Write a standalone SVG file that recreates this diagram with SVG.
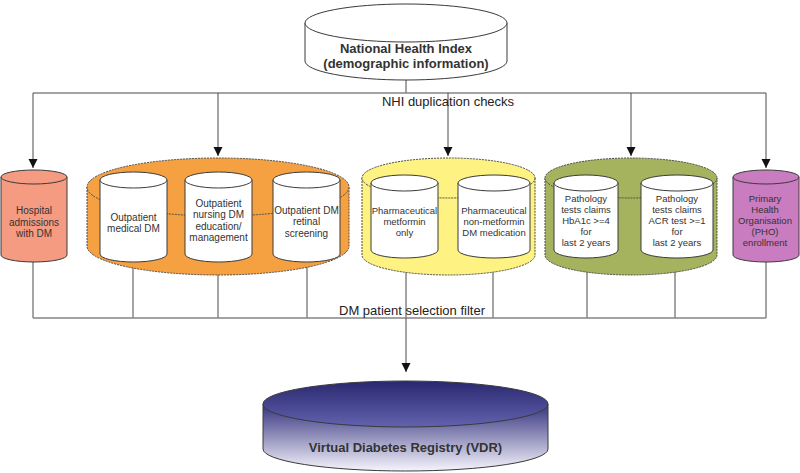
<svg xmlns="http://www.w3.org/2000/svg" width="800" height="473" viewBox="0 0 800 473">
<defs>
<style>
.hl{stroke:#858585;stroke-width:1.6;fill:none}
.vl{stroke:#4a4a4a;stroke-width:1;fill:none}
.cyl{stroke:#3a3a3a;stroke-width:1}
.outer{stroke:#4a4a4a;stroke-width:1;stroke-dasharray:2 1}
.t{font-family:"Liberation Sans",Arial,sans-serif;font-size:10px;fill:#333;text-anchor:middle}
.ts{font-family:"Liberation Sans",Arial,sans-serif;font-size:9.5px;fill:#333;text-anchor:middle}
.lbl{font-family:"Liberation Sans",Arial,sans-serif;font-size:13px;fill:#222;text-anchor:middle}
.b{font-family:"Liberation Sans",Arial,sans-serif;font-size:13px;font-weight:bold;fill:#333;text-anchor:middle}
</style>
<marker id="ah" markerUnits="userSpaceOnUse" markerWidth="10" markerHeight="10" refX="9" refY="5" orient="auto">
<path d="M0,0.5 L9,5 L0,9.5 Z" fill="#111"/>
</marker>
<linearGradient id="vdrBody" x1="0" y1="0" x2="0" y2="1">
<stop offset="0" stop-color="#34337f"/>
<stop offset="1" stop-color="#f6f4fc"/>
</linearGradient>
<linearGradient id="vdrTop" x1="0" y1="0" x2="0" y2="1">
<stop offset="0" stop-color="#29286f"/>
<stop offset="1" stop-color="#6262ae"/>
</linearGradient>
</defs>
<rect width="800" height="473" fill="#fff"/>

<g id="connectors">
<line class="vl" x1="406" y1="78" x2="406" y2="93"/>
<line class="hl" x1="33" y1="93" x2="766" y2="93"/>
<line class="vl" x1="33" y1="93" x2="33" y2="168" marker-end="url(#ah)"/>
<line class="vl" x1="218" y1="93" x2="218" y2="156" marker-end="url(#ah)"/>
<line class="vl" x1="448" y1="93" x2="448" y2="156" marker-end="url(#ah)"/>
<line class="vl" x1="631" y1="93" x2="631" y2="156" marker-end="url(#ah)"/>
<line class="vl" x1="766" y1="93" x2="766" y2="168" marker-end="url(#ah)"/>
<line class="vl" x1="33" y1="250" x2="33" y2="318"/>
<line class="vl" x1="133" y1="250" x2="133" y2="318"/>
<line class="vl" x1="218" y1="250" x2="218" y2="318"/>
<line class="vl" x1="307" y1="250" x2="307" y2="318"/>
<line class="vl" x1="406" y1="250" x2="406" y2="318"/>
<line class="vl" x1="493" y1="250" x2="493" y2="318"/>
<line class="vl" x1="587" y1="250" x2="587" y2="318"/>
<line class="vl" x1="675" y1="250" x2="675" y2="318"/>
<line class="vl" x1="766" y1="250" x2="766" y2="318"/>
<line class="hl" x1="33" y1="318" x2="766" y2="318"/>
<line class="vl" x1="406" y1="318" x2="406" y2="372" marker-end="url(#ah)"/>
<text class="lbl" x="448" y="106">NHI duplication checks</text>
<text class="lbl" x="412" y="315">DM patient selection filter</text>
</g>

<g id="nhi">
<path class="cyl" fill="#fff" d="M305,23 V61 A101,19 0 0 0 507,61 V23"/>
<ellipse class="cyl" fill="#fff" cx="406" cy="23" rx="101" ry="19"/>
<text class="b" x="406" y="53">National Health Index</text>
<text class="b" x="406" y="68">(demographic information)</text>
</g>

<g id="hospital">
<path class="cyl" fill="#f59b82" d="M1,177 V255 A33,7 0 0 0 67,255 V177"/>
<ellipse class="cyl" fill="#f59b82" cx="34" cy="177" rx="33" ry="7"/>
<text class="t" x="34" y="214">Hospital</text>
<text class="t" x="34" y="225.5">admissions</text>
<text class="t" x="34" y="237">with DM</text>
</g>

<g id="outpatient">
<path class="outer" fill="#f5a142" d="M87,187 V246 A131,29 0 0 0 349,246 V187"/>
<ellipse class="outer" fill="#f5a142" cx="218" cy="187" rx="131" ry="29"/>
<g id="outpatient-medical">
<path class="cyl" fill="#fff" d="M100,180 V254 A33.5,8 0 0 0 167,254 V180"/>
<ellipse class="cyl" fill="#fff" cx="133.5" cy="180" rx="33.5" ry="8"/>
<text class="t" x="133.5" y="220.5">Outpatient</text>
<text class="t" x="133.5" y="232">medical DM</text>
</g>
<g id="outpatient-nursing">
<path class="cyl" fill="#fff" d="M185,180 V254 A33.5,8 0 0 0 252,254 V180"/>
<ellipse class="cyl" fill="#fff" cx="218.5" cy="180" rx="33.5" ry="8"/>
<text class="t" x="218.5" y="206.5">Outpatient</text>
<text class="t" x="218.5" y="218">nursing DM</text>
<text class="t" x="218.5" y="229.5">education/</text>
<text class="t" x="218.5" y="241">management</text>
</g>
<g id="outpatient-retinal">
<path class="cyl" fill="#fff" d="M273,180 V254 A33.5,8 0 0 0 340,254 V180"/>
<ellipse class="cyl" fill="#fff" cx="306.5" cy="180" rx="33.5" ry="8"/>
<text class="t" x="306.5" y="213.5">Outpatient DM</text>
<text class="t" x="306.5" y="225">retinal</text>
<text class="t" x="306.5" y="236.5">screening</text>
</g>
</g>

<g id="pharmaceutical">
<path class="outer" fill="#fdf282" d="M362,178 V255 A86.5,20 0 0 0 535,255 V178"/>
<ellipse class="outer" fill="#fdf282" cx="448.5" cy="178" rx="86.5" ry="20"/>
<g id="pharm-metformin">
<path class="cyl" fill="#fff" d="M371,183 V250 A33.5,8 0 0 0 438,250 V183"/>
<ellipse class="cyl" fill="#fff" cx="404.5" cy="183" rx="33.5" ry="8"/>
<text class="ts" x="404.5" y="214">Pharmaceutical</text>
<text class="ts" x="404.5" y="225">metformin</text>
<text class="ts" x="404.5" y="236">only</text>
</g>
<g id="pharm-nonmetformin">
<path class="cyl" fill="#fff" d="M458,183 V250 A36,8 0 0 0 530,250 V183"/>
<ellipse class="cyl" fill="#fff" cx="494" cy="183" rx="36" ry="8"/>
<text class="ts" x="494" y="214">Pharmaceutical</text>
<text class="ts" x="494" y="225">non-metformin</text>
<text class="ts" x="494" y="236">DM medication</text>
</g>
</g>

<g id="pathology">
<path class="outer" fill="#a5b35e" d="M545,178 V255 A86,20 0 0 0 717,255 V178"/>
<ellipse class="outer" fill="#a5b35e" cx="631" cy="178" rx="86" ry="20"/>
<g id="path-hba1c">
<path class="cyl" fill="#fff" d="M554,183 V250 A32,8 0 0 0 618,250 V183"/>
<ellipse class="cyl" fill="#fff" cx="586" cy="183" rx="32" ry="8"/>
<text class="ts" x="586" y="201.5">Pathology</text>
<text class="ts" x="586" y="212.5">tests claims</text>
<text class="ts" x="586" y="223.5">HbA1c &gt;=4</text>
<text class="ts" x="586" y="234.5">for</text>
<text class="ts" x="586" y="245.5">last 2 years</text>
</g>
<g id="path-acr">
<path class="cyl" fill="#fff" d="M641,183 V250 A36,8 0 0 0 713,250 V183"/>
<ellipse class="cyl" fill="#fff" cx="677" cy="183" rx="36" ry="8"/>
<text class="ts" x="677" y="201.5">Pathology</text>
<text class="ts" x="677" y="212.5">tests claims</text>
<text class="ts" x="677" y="223.5">ACR test &gt;=1</text>
<text class="ts" x="677" y="234.5">for</text>
<text class="ts" x="677" y="245.5">last 2 years</text>
</g>
</g>

<g id="pho">
<path class="cyl" fill="#c97cc0" d="M733,177 V255 A33,7 0 0 0 799,255 V177"/>
<ellipse class="cyl" fill="#c97cc0" cx="766" cy="177" rx="33" ry="7"/>
<text class="ts" x="765" y="201.5">Primary</text>
<text class="ts" x="765" y="212.5">Health</text>
<text class="ts" x="765" y="223.5">Organisation</text>
<text class="ts" x="765" y="234.5">(PHO)</text>
<text class="ts" x="765" y="245.5">enrollment</text>
</g>

<g id="vdr">
<path class="cyl" fill="url(#vdrBody)" d="M263,404 V449 A142.5,22 0 0 0 548,449 V404"/>
<ellipse class="cyl" fill="url(#vdrTop)" cx="405.5" cy="404" rx="142.5" ry="23"/>
<text class="b" x="405.5" y="452">Virtual Diabetes Registry (VDR)</text>
</g>
</svg>
